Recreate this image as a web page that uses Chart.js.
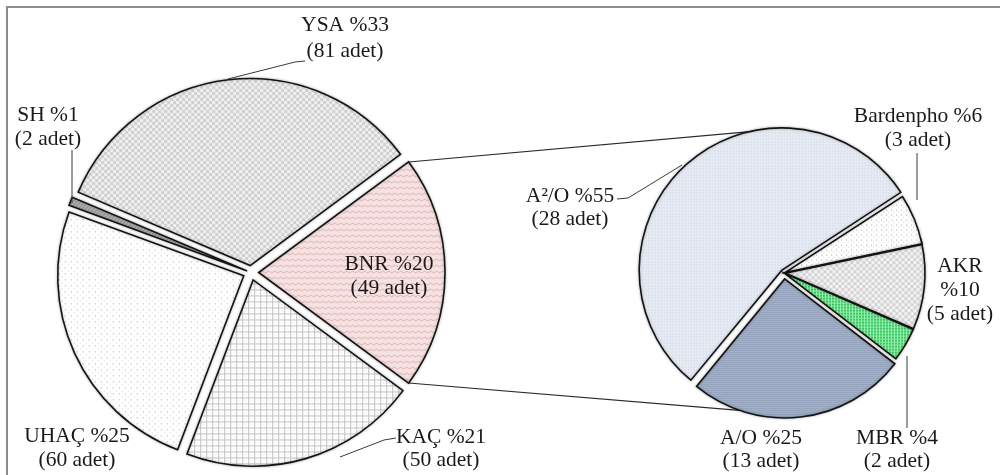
<!DOCTYPE html>
<html>
<head>
<meta charset="utf-8">
<script src="https://cdn.jsdelivr.net/npm/chart.js@4.4.1/dist/chart.umd.min.js"></script>
<style>
  html, body { margin: 0; padding: 0; background: #ffffff; }
  #wrap { position: relative; width: 1000px; height: 475px; overflow: hidden; }
  #wrap canvas { position: absolute; left: 0; top: 0; }
</style>
</head>
<body>
<div id="wrap">
  <canvas id="mainPie" width="1000" height="475"></canvas>
  <canvas id="subPie" width="1000" height="475"></canvas>
</div>
<script>
// Main pie: treatment process groups (clockwise from the BNR slice)
const mainLabels = ['BNR', 'KAÇ', 'UHAÇ', 'SH', 'YSA'];
const mainCounts = [49, 50, 60, 2, 81];

// Secondary pie: breakdown of the BNR group (clockwise from Bardenpho)
const subLabels = ['Bardenpho', 'AKR', 'MBR', 'A/O', 'A²/O'];
const subCounts = [3, 5, 2, 13, 28];

const sum = a => a.reduce((s, v) => s + v, 0);
const pct = (v, arr) => Math.round(100 * v / sum(arr));

const FONT = '21.5px "Liberation Serif", "Times New Roman", serif';
const INK = '#1a1a1a';

// ---- pattern fills ----
function pattern(size, bg, paint) {
  const c = document.createElement('canvas');
  c.width = size; c.height = size;
  const g = c.getContext('2d');
  g.fillStyle = bg;
  g.fillRect(0, 0, size, size);
  paint(g);
  return g.createPattern(c, 'repeat');
}
const checker = (size, light, dark) => pattern(size, light, g => {
  const h = size / 2;
  g.fillStyle = dark;
  g.fillRect(0, 0, h, h);
  g.fillRect(h, h, h, h);
});
const dots = (size, bg, c1, c2) => pattern(size, bg, g => {
  const h = Math.floor(size / 2);
  g.fillStyle = c1; g.fillRect(0, 0, 1, 1);
  g.fillStyle = c2; g.fillRect(h, h, 1, 1);
});

const fills = {
  'BNR': pattern(6, '#f6e2e2', g => {
    g.strokeStyle = '#e0b4b4'; g.lineWidth = 1;
    g.beginPath(); g.moveTo(0, 3); g.lineTo(3, 1); g.lineTo(6, 3); g.stroke();
  }),
  'KAÇ': pattern(6, '#ffffff', g => {
    g.fillStyle = '#c2c2c2';
    g.fillRect(0, 0, 6, 1); g.fillRect(0, 0, 1, 6);
    g.fillStyle = '#e4e4e4'; g.fillRect(3, 3, 1, 1);
  }),
  'UHAÇ': dots(6, '#ffffff', '#a9a9a9', '#d6d6d6'),
  'SH': pattern(4, '#b4b4b4', g => {
    g.fillStyle = '#7a7a7a';
    for (let i = 0; i < 4; i++) g.fillRect(i, 3 - i, 1, 1);
  }),
  'YSA': checker(6, '#f0f0f0', '#d0d0d0'),
  'Bardenpho': dots(5, '#ffffff', '#a3a3a3', '#d3d3d3'),
  'AKR': checker(6, '#f4f4f4', '#d3d3d3'),
  'MBR': pattern(3, '#8ff0aa', g => {
    g.fillStyle = '#3fc463'; g.fillRect(0, 0, 2, 2);
  }),
  'A/O': pattern(2, '#a1afc7', g => {
    g.fillStyle = '#8d9bb5'; g.fillRect(0, 0, 1, 1);
  }),
  'A²/O': pattern(3, '#e6ebf3', g => {
    g.fillStyle = '#c7d0df'; g.fillRect(0, 0, 1, 1);
  })
};

// ---- exploded slices ----
// Chart.js shifts an arc by offset/4 * (1 + fix); convert a wanted pull-out distance to that option.
function offsetsFor(counts, pull) {
  const total = sum(counts);
  return counts.map((v, i) => {
    const circ = 2 * Math.PI * v / total;
    const fix = 1 - Math.sin(Math.min(Math.PI, circ));
    return 4 * pull[i] / (1 + fix);
  });
}
function arcShift(arc) {
  const circ = arc.endAngle - arc.startAngle;
  const fix = 1 - Math.sin(Math.min(Math.PI, circ));
  const t = (arc.options.offset || 0) / 4 * (1 + fix);
  const mid = (arc.startAngle + arc.endAngle) / 2;
  return [Math.cos(mid) * t, Math.sin(mid) * t];
}
function arcPoint(arc, angleDeg) {
  const [dx, dy] = arcShift(arc);
  const a = angleDeg * Math.PI / 180;
  return [arc.x + dx + arc.outerRadius * Math.cos(a), arc.y + dy + arc.outerRadius * Math.sin(a)];
}

// ---- text labels and leader lines ----
function drawLabels(ctx, items) {
  ctx.save();
  ctx.strokeStyle = '#3a3a3a';
  ctx.lineWidth = 1;
  items.forEach(it => {
    if (it.leader) {
      ctx.beginPath();
      it.leader.forEach(([x, y], i) => i ? ctx.lineTo(x, y) : ctx.moveTo(x, y));
      ctx.stroke();
    }
  });
  ctx.fillStyle = INK;
  ctx.font = FONT;
  ctx.textAlign = 'center';
  ctx.textBaseline = 'middle';
  items.forEach(it => {
    it.lines.forEach((t, i) => ctx.fillText(t, it.x, it.y + i * it.gap));
  });
  ctx.restore();
}

const mainIdx = n => mainLabels.indexOf(n);
const subIdx = n => subLabels.indexOf(n);
const mainText = n => [`${n} %${pct(mainCounts[mainIdx(n)], mainCounts)}`, `(${mainCounts[mainIdx(n)]} adet)`];
const subText = n => [`${n} %${pct(subCounts[subIdx(n)], subCounts)}`, `(${subCounts[subIdx(n)]} adet)`];

const mainLabelLayout = [
  { lines: mainText('YSA'), x: 345, y: 25, gap: 26, leader: [[305, 61], [295, 62], [228, 79]] },
  { lines: mainText('SH'), x: 48, y: 115, gap: 24, leader: [[72, 150], [72, 203]] },
  { lines: mainText('UHAÇ'), x: 77, y: 436, gap: 24 },
  { lines: mainText('KAÇ'), x: 441, y: 437, gap: 23, leader: [[396, 438], [384, 440], [340, 457]] },
  { lines: mainText('BNR'), x: 389, y: 264, gap: 24 }
];
const akrPct = pct(subCounts[subIdx('AKR')], subCounts);
const subLabelLayout = [
  { lines: subText('A²/O'), x: 570, y: 196, gap: 23, leader: [[617, 199], [628, 198], [682, 165]] },
  { lines: subText('Bardenpho'), x: 918, y: 116, gap: 24, leader: [[917, 153], [917, 200]] },
  { lines: ['AKR', `%${akrPct}`, `(${subCounts[subIdx('AKR')]} adet)`], x: 960, y: 266, gap: 24 },
  { lines: subText('MBR'), x: 897, y: 438, gap: 23, leader: [[907, 428], [907, 356]] },
  { lines: subText('A/O'), x: 761, y: 438, gap: 23 }
];

// soft halo around the slices
const haloPlugin = {
  id: 'halo',
  beforeDatasetsDraw(chart) {
    const ctx = chart.ctx;
    ctx.save();
    ctx.shadowColor = 'rgba(0,0,0,0.28)';
    ctx.shadowBlur = 3;
  },
  afterDatasetsDraw(chart) { chart.ctx.restore(); }
};

const frame = {
  id: 'frame',
  beforeDraw(chart) {
    const ctx = chart.ctx;
    ctx.save();
    ctx.strokeStyle = '#8c8c8c';
    ctx.lineWidth = 2;
    ctx.strokeRect(7, 7, 1010, 490);
    ctx.restore();
  }
};

const common = {
  responsive: false,
  animation: false,
  devicePixelRatio: 1,
  plugins: { legend: { display: false }, tooltip: { enabled: false } },
  events: []
};

// Main pie, BNR slice centred on the right-hand side
const mainChart = new Chart(document.getElementById('mainPie'), {
  type: 'pie',
  data: {
    labels: mainLabels,
    datasets: [{
      data: mainCounts,
      backgroundColor: mainLabels.map(n => fills[n]),
      borderColor: '#141414',
      borderWidth: 1.6,
      borderJoinStyle: 'miter',
      offset: offsetsFor(mainCounts, mainCounts.map(() => 8)),
      rotation: 90 - 180 * mainCounts[0] / sum(mainCounts)
    }]
  },
  options: Object.assign({}, common, {
    radius: 186,
    layout: { padding: { left: 51, right: 549, top: 72, bottom: 2 } }
  }),
  plugins: [frame, haloPlugin, {
    id: 'mainLabels',
    afterDraw(chart) { drawLabels(chart.ctx, mainLabelLayout); }
  }]
});

// Secondary pie with connector lines from the BNR slice
const subPull = { 'Bardenpho': 2, 'AKR': 2, 'MBR': 2, 'A/O': 6, 'A²/O': 7 };
const subChart = new Chart(document.getElementById('subPie'), {
  type: 'pie',
  data: {
    labels: subLabels,
    datasets: [{
      data: subCounts,
      backgroundColor: subLabels.map(n => fills[n]),
      borderColor: '#141414',
      borderWidth: 1.6,
      borderJoinStyle: 'miter',
      offset: offsetsFor(subCounts, subLabels.map(n => subPull[n])),
      rotation: 57
    }]
  },
  options: Object.assign({}, common, {
    radius: 139,
    layout: { padding: { left: 584, right: 16, top: 73, bottom: 2 } }
  }),
  plugins: [{
    id: 'connectors',
    beforeDatasetsDraw(chart) {
      const bnr = mainChart.getDatasetMeta(0).data[0];
      const topL = arcPoint(bnr, bnr.startAngle * 180 / Math.PI);
      const botL = arcPoint(bnr, bnr.endAngle * 180 / Math.PI);
      const meta = chart.getDatasetMeta(0).data;
      const topR = arcPoint(meta[subIdx('A²/O')], -101);
      const botR = arcPoint(meta[subIdx('A/O')], 109);
      const ctx = chart.ctx;
      ctx.save();
      ctx.strokeStyle = '#2a2a2a';
      ctx.lineWidth = 1.1;
      ctx.beginPath();
      ctx.moveTo(topL[0], topL[1]); ctx.lineTo(topR[0], topR[1]);
      ctx.moveTo(botL[0], botL[1]); ctx.lineTo(botR[0], botR[1]);
      ctx.stroke();
      ctx.restore();
    }
  }, haloPlugin, {
    id: 'subLabels',
    afterDraw(chart) { drawLabels(chart.ctx, subLabelLayout); }
  }]
});
</script>
</body>
</html>
